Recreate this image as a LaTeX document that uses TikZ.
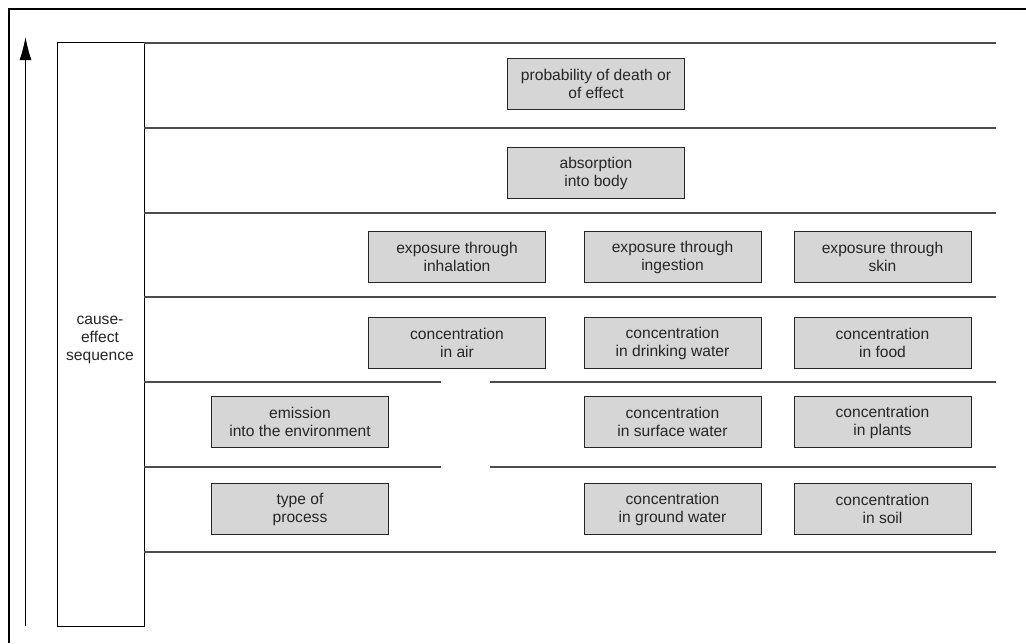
\documentclass[tikz,border=0pt]{standalone}
\usepackage{fontspec}
\setmainfont{Liberation Sans}
\usetikzlibrary{arrows.meta}
\begin{document}
\begin{tikzpicture}[x=1pt,y=-1pt,
  frame/.style={draw=black,line width=1.2pt},
  level/.style={draw=black!70,line width=1.3pt},
  stage/.style={draw=black!85,line width=1pt,fill=black!16,
    minimum width=177pt,minimum height=51pt,align=center,
    font=\fontsize{15.6}{18}\selectfont,text=black!85,inner sep=0pt,anchor=north west},
  seqbox/.style={draw=black,line width=1.1pt,fill=white,anchor=north west,
    minimum width=87pt,minimum height=584pt,inner sep=0pt},
  upward/.style={-{Latex[length=23pt,width=12pt]},line width=1pt}]
\useasboundingbox (0,0) rectangle (1026,643);
% outer frame (open towards right and bottom)
\draw[frame] (9,643) -- (9,9) -- (1026,9);
% cause-effect direction
\coordinate (arrowfoot) at (25.5,626);
\coordinate (arrowhead) at (25.5,37);
\draw[upward] (arrowfoot) -- (arrowhead);
% sequence column
\node[seqbox] (seq) at (57,42) {};
\node[align=center,font=\fontsize{15.6}{18}\selectfont,text=black!85] (seqlabel) at (100,340) {cause-\\effect\\sequence};
% level separators
\foreach \yy in {43,128,213,297,552}
  \draw[level] (144,\yy) -- (996,\yy);
\foreach \yy in {382,467}{
  \draw[level] (144,\yy) -- (440.5,\yy);
  \draw[level] (490,\yy) -- (996,\yy);
}
% stages
\node[stage] (death) at (507,58) {probability of death or\\of effect};
\node[stage] (absorb) at (507,147) {absorption\\into body};
\node[stage] (inhal) at (368,231) {exposure through\\inhalation};
\node[stage] (inges) at (583.5,231) {exposure through\\ingestion};
\node[stage] (skin) at (793.5,231) {exposure through\\skin};
\node[stage] (air) at (368,317) {concentration\\in air};
\node[stage] (drink) at (583.5,317) {concentration\\in drinking water};
\node[stage] (food) at (793.5,317) {concentration\\in food};
\node[stage] (emis) at (211,396) {emission\\into the environment};
\node[stage] (surf) at (583.5,396) {concentration\\in surface water};
\node[stage] (plants) at (793.5,396) {concentration\\in plants};
\node[stage] (proc) at (211,483) {type of\\process};
\node[stage] (ground) at (583.5,483) {concentration\\in ground water};
\node[stage] (soil) at (793.5,483) {concentration\\in soil};
\end{tikzpicture}
\end{document}
